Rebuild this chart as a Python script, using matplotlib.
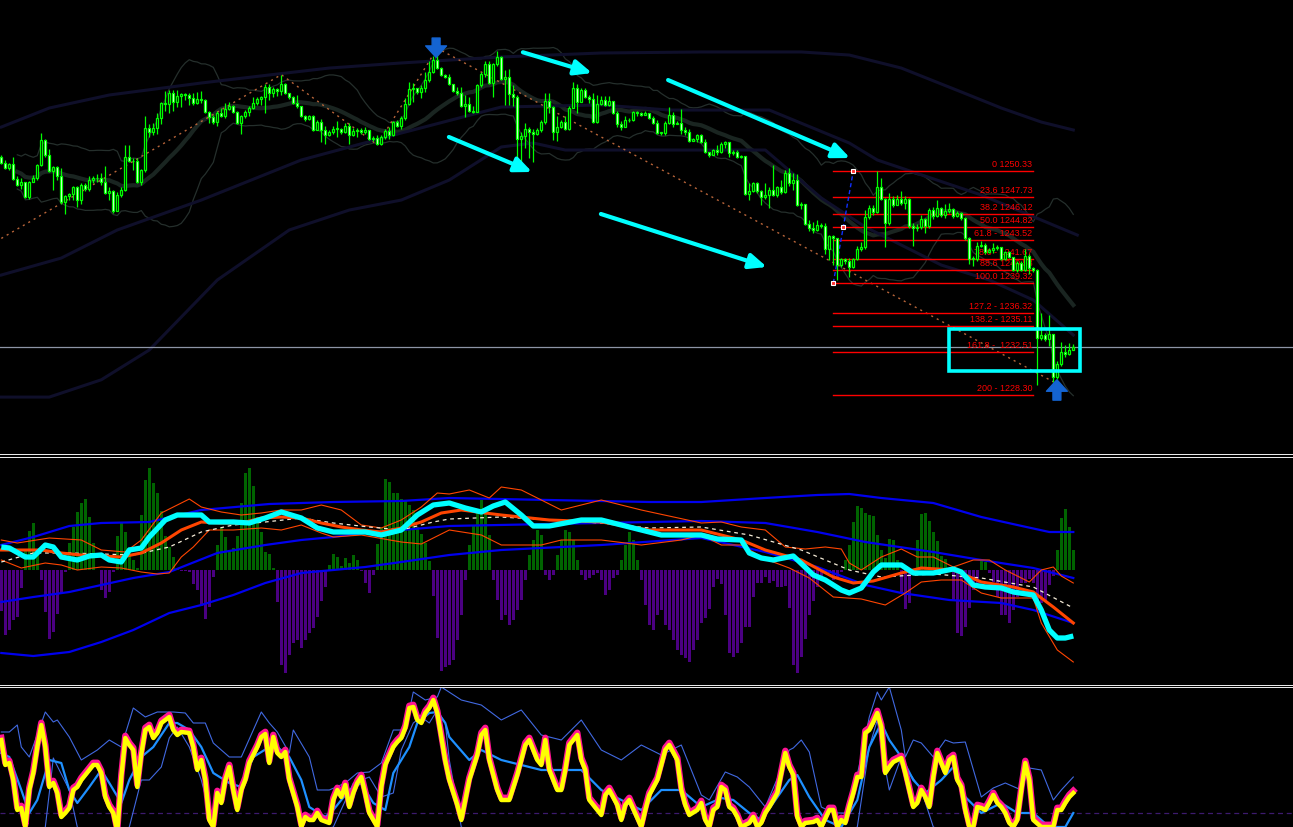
import matplotlib
matplotlib.use("Agg")
import matplotlib.pyplot as plt
import numpy as np
import pandas as pd
from matplotlib.lines import Line2D
from matplotlib.patches import Rectangle
import matplotlib.transforms as mtransforms

# ---------------- price data (one value per bar) ----------------
first_open = 1251.7
closes = [
    1251.1, 1250.6, 1251.0, 1249.5, 1249.0, 1249.2, 1247.8, 1249.2, 1249.6, 1250.9,
    1253.4, 1251.9, 1250.3, 1250.7, 1249.8, 1247.3, 1247.9, 1248.1, 1248.8, 1247.5,
    1249.0, 1248.6, 1249.4, 1249.6, 1249.6, 1249.2, 1248.2, 1248.4, 1246.4, 1248.0,
    1248.5, 1251.7, 1251.3, 1251.3, 1249.2, 1250.4, 1254.6, 1254.2, 1254.6, 1255.5,
    1257.0, 1256.9, 1258.0, 1257.1, 1257.7, 1257.9, 1257.8, 1257.5, 1257.0, 1257.4,
    1257.3, 1256.1, 1255.6, 1255.1, 1256.0, 1255.7, 1256.4, 1256.7, 1256.1, 1255.0,
    1255.7, 1256.1, 1256.5, 1257.0, 1257.4, 1257.6, 1258.6, 1258.0, 1258.4, 1258.2,
    1258.9, 1258.0, 1257.6, 1257.0, 1256.7, 1255.7, 1255.4, 1255.7, 1254.4, 1255.1,
    1254.4, 1253.9, 1254.2, 1254.5, 1254.5, 1254.2, 1254.8, 1253.9, 1254.3, 1254.4,
    1254.2, 1254.4, 1253.5, 1253.6, 1253.0, 1253.7, 1254.3, 1253.9, 1255.1, 1254.8,
    1255.5, 1256.9, 1258.4, 1258.5, 1258.1, 1258.5, 1259.3, 1260.1, 1261.2, 1260.5,
    1259.8, 1259.6, 1258.9, 1258.2, 1258.0, 1256.7, 1256.9, 1256.2, 1256.1, 1258.8,
    1259.9, 1260.8, 1259.0, 1260.8, 1261.5, 1259.4, 1259.6, 1257.9, 1257.6, 1253.5,
    1253.8, 1254.5, 1254.2, 1254.0, 1254.4, 1255.1, 1257.2, 1256.6, 1254.2, 1254.7,
    1255.1, 1254.5, 1256.5, 1258.5, 1257.1, 1258.3, 1257.6, 1257.4, 1255.1, 1256.9,
    1257.3, 1256.8, 1257.2, 1256.0, 1254.9, 1254.7, 1255.3, 1255.3, 1256.1, 1256.0,
    1255.8, 1256.0, 1255.5, 1255.0, 1254.1, 1254.1, 1255.0, 1255.8, 1254.9, 1255.0,
    1254.4, 1254.2, 1253.3, 1253.5, 1253.9, 1253.2, 1252.2, 1251.9, 1252.4, 1252.2,
    1253.0, 1253.2, 1252.1, 1252.2, 1251.7, 1251.8, 1248.1, 1248.4, 1249.1, 1248.4,
    1247.8, 1248.0, 1248.5, 1248.0, 1248.8, 1248.3, 1250.1, 1249.1, 1249.4, 1247.0,
    1247.1, 1245.1, 1244.7, 1244.5, 1245.0, 1244.9, 1242.7, 1243.9, 1243.7, 1241.1,
    1241.7, 1241.5, 1240.9, 1241.7, 1242.7, 1242.9, 1245.8, 1246.7, 1246.3, 1248.8,
    1247.6, 1245.2, 1247.6, 1247.0, 1247.6, 1247.2, 1247.6, 1244.9, 1244.7, 1244.8,
    1245.6, 1244.9, 1246.5, 1245.9, 1246.7, 1246.0, 1246.4, 1246.6, 1245.9, 1246.2,
    1245.7, 1243.7, 1241.7, 1241.7, 1243.0, 1243.1, 1242.4, 1242.6, 1242.8, 1242.9,
    1241.7, 1242.4, 1241.9, 1240.6, 1241.3, 1240.6, 1242.0, 1240.8, 1240.6, 1233.9,
    1234.2, 1233.8, 1234.3, 1230.1, 1231.4, 1232.5, 1232.3, 1232.7, 1233.0,
]
highs = [
    1251.9, 1251.4, 1251.1, 1251.7, 1249.8, 1249.6, 1249.2, 1249.3, 1249.9, 1251.0,
    1254.1, 1253.5, 1252.5, 1250.8, 1250.8, 1250.6, 1248.0, 1248.2, 1248.9, 1248.9,
    1249.1, 1249.1, 1249.8, 1249.8, 1250.0, 1250.1, 1250.8, 1248.8, 1248.5, 1248.3,
    1248.8, 1252.9, 1252.9, 1251.6, 1251.6, 1250.5, 1255.7, 1254.9, 1255.0, 1256.0,
    1257.1, 1258.2, 1258.3, 1258.3, 1258.3, 1258.0, 1258.0, 1258.0, 1258.0, 1258.1,
    1258.2, 1257.4, 1256.2, 1255.8, 1256.2, 1256.5, 1257.0, 1257.1, 1256.8, 1256.2,
    1255.8, 1256.3, 1256.7, 1257.6, 1257.6, 1257.7, 1258.9, 1258.9, 1258.6, 1258.5,
    1259.8, 1259.0, 1257.9, 1257.7, 1257.8, 1256.7, 1255.8, 1255.8, 1255.8, 1255.3,
    1255.4, 1254.8, 1254.4, 1254.8, 1255.2, 1254.6, 1255.0, 1255.0, 1254.6, 1254.6,
    1254.6, 1254.7, 1254.2, 1253.8, 1253.9, 1253.9, 1254.5, 1254.7, 1255.2, 1255.3,
    1255.7, 1257.5, 1259.1, 1259.0, 1258.3, 1258.8, 1260.1, 1261.1, 1261.6, 1262.4,
    1260.6, 1259.9, 1259.9, 1258.9, 1258.6, 1258.6, 1257.8, 1257.6, 1256.7, 1258.9,
    1260.1, 1261.1, 1261.1, 1260.9, 1262.1, 1261.6, 1260.3, 1260.4, 1258.8, 1257.8,
    1254.2, 1255.0, 1254.7, 1254.5, 1254.6, 1255.3, 1258.0, 1258.0, 1256.7, 1255.7,
    1255.3, 1255.7, 1256.7, 1259.1, 1258.9, 1258.5, 1258.5, 1257.8, 1258.0, 1257.8,
    1257.7, 1257.7, 1257.7, 1257.1, 1256.2, 1255.2, 1255.7, 1255.5, 1256.2, 1256.2,
    1256.1, 1256.2, 1255.9, 1255.7, 1255.3, 1254.2, 1255.2, 1256.6, 1256.1, 1255.2,
    1256.4, 1254.7, 1254.5, 1253.6, 1254.0, 1254.0, 1253.5, 1252.2, 1252.5, 1252.9,
    1253.2, 1253.3, 1253.0, 1252.4, 1252.4, 1251.9, 1251.8, 1249.1, 1249.2, 1249.2,
    1248.5, 1249.1, 1248.8, 1250.9, 1248.9, 1249.4, 1250.4, 1250.6, 1250.1, 1250.0,
    1247.3, 1246.9, 1245.5, 1245.3, 1245.5, 1245.2, 1245.2, 1244.0, 1244.0, 1243.7,
    1241.8, 1241.8, 1241.8, 1241.8, 1243.0, 1243.3, 1246.5, 1247.0, 1247.0, 1250.3,
    1249.6, 1247.7, 1248.2, 1247.9, 1248.0, 1248.4, 1247.9, 1247.7, 1245.2, 1245.1,
    1246.0, 1245.7, 1246.7, 1246.8, 1247.5, 1246.8, 1247.1, 1247.2, 1246.7, 1246.4,
    1246.3, 1245.8, 1243.8, 1242.0, 1243.3, 1243.4, 1243.2, 1242.8, 1243.2, 1243.1,
    1242.7, 1242.5, 1242.5, 1241.5, 1241.5, 1241.5, 1242.7, 1242.2, 1240.9, 1240.7,
    1236.4, 1234.4, 1236.2, 1233.9, 1231.6, 1233.5, 1233.2, 1233.4, 1233.3,
]
lows = [
    1251.0, 1250.5, 1250.4, 1249.4, 1248.9, 1248.6, 1247.7, 1247.6, 1249.2, 1249.4,
    1250.8, 1251.7, 1250.2, 1248.5, 1249.4, 1247.1, 1246.1, 1247.5, 1247.5, 1246.8,
    1247.1, 1248.4, 1248.4, 1249.1, 1249.2, 1249.0, 1248.1, 1247.5, 1246.2, 1246.4,
    1247.8, 1248.4, 1251.2, 1250.4, 1249.1, 1249.0, 1250.2, 1253.7, 1253.9, 1254.0,
    1254.9, 1256.2, 1256.0, 1256.2, 1256.6, 1256.6, 1257.3, 1256.8, 1256.8, 1256.9,
    1257.0, 1256.0, 1255.0, 1254.9, 1254.8, 1255.6, 1255.5, 1256.3, 1256.0, 1254.9,
    1254.0, 1255.5, 1255.7, 1256.4, 1256.8, 1256.8, 1256.0, 1257.3, 1257.6, 1257.7,
    1257.8, 1257.9, 1257.4, 1256.9, 1256.5, 1255.6, 1255.2, 1255.3, 1254.3, 1254.4,
    1253.2, 1253.0, 1253.8, 1254.0, 1253.7, 1254.0, 1254.1, 1253.0, 1253.8, 1253.7,
    1254.0, 1254.0, 1253.4, 1253.3, 1252.9, 1252.9, 1253.5, 1253.5, 1253.8, 1254.7,
    1254.5, 1255.3, 1256.8, 1257.1, 1257.9, 1257.5, 1258.1, 1259.1, 1260.0, 1260.4,
    1259.7, 1259.5, 1258.8, 1258.1, 1257.8, 1256.6, 1255.6, 1256.1, 1256.0, 1256.5,
    1258.6, 1259.6, 1258.9, 1257.6, 1260.7, 1259.3, 1256.8, 1256.8, 1256.7, 1251.2,
    1251.2, 1252.6, 1251.6, 1251.2, 1253.9, 1254.2, 1254.9, 1256.0, 1253.4, 1253.3,
    1254.6, 1254.4, 1254.4, 1256.5, 1256.0, 1257.1, 1257.5, 1257.0, 1255.0, 1255.0,
    1256.8, 1256.7, 1256.7, 1255.9, 1254.7, 1254.4, 1254.7, 1255.1, 1255.2, 1255.7,
    1255.7, 1255.8, 1255.4, 1254.9, 1254.0, 1253.9, 1253.9, 1254.9, 1254.7, 1254.9,
    1254.0, 1253.9, 1253.2, 1253.3, 1253.2, 1253.1, 1252.1, 1251.7, 1251.9, 1251.9,
    1252.1, 1252.6, 1251.7, 1251.9, 1251.6, 1251.6, 1248.0, 1247.5, 1248.3, 1248.2,
    1247.0, 1247.6, 1246.7, 1247.9, 1247.8, 1248.1, 1248.2, 1248.9, 1248.5, 1246.9,
    1246.6, 1245.0, 1244.4, 1244.2, 1244.4, 1244.7, 1242.2, 1241.6, 1241.1, 1239.6,
    1240.9, 1241.2, 1239.9, 1240.8, 1241.6, 1242.5, 1242.7, 1245.6, 1246.0, 1246.2,
    1247.5, 1242.9, 1245.0, 1246.8, 1247.3, 1247.0, 1246.6, 1244.7, 1243.0, 1244.4,
    1244.6, 1244.2, 1244.7, 1245.6, 1245.8, 1245.8, 1245.7, 1246.2, 1245.7, 1245.8,
    1245.5, 1243.5, 1241.2, 1241.0, 1241.5, 1242.9, 1242.2, 1242.3, 1242.3, 1242.6,
    1241.6, 1241.6, 1241.8, 1240.5, 1240.4, 1240.5, 1240.5, 1240.2, 1240.4, 1229.3,
    1233.7, 1233.6, 1233.1, 1229.6, 1229.9, 1231.2, 1232.0, 1232.2, 1232.7,
]

# long-period band (navy) read at selected bars
nav_up_i = [0, 12, 27, 50, 67, 82, 100, 125, 150, 175, 200, 212, 225, 240, 250, 260, 268]
nav_up_p = [1254.65, 1256.52, 1257.8, 1258.98, 1259.77, 1260.45, 1260.95, 1261.54, 1261.93,
            1262.03, 1262.03, 1261.73, 1260.45, 1258.1, 1256.52, 1255.14, 1254.36]
nav_mid_i = [0, 15, 29, 50, 75, 100, 125, 150, 167, 192, 212, 219, 245, 269]
nav_mid_p = [1240.1, 1241.77, 1244.53, 1247.47, 1251.41, 1254.06, 1256.62, 1256.82, 1256.32,
             1256.32, 1253.08, 1251.41, 1247.97, 1244.03]
nav_lo_i = [0, 12, 25, 37, 54, 72, 87, 100, 112, 125, 133, 141, 191, 205, 216, 235, 247, 258, 268]
nav_lo_p = [1228.1, 1228.1, 1229.8, 1232.73, 1239.61, 1244.53, 1246.49, 1247.47, 1249.44, 1252.69,
            1253.08, 1252.39, 1252.39, 1247.67, 1244.82, 1241.08, 1239.61, 1237.64, 1234.2]

# zigzag pivots
zz_i = [0, 70, 94, 109, 263]
zz_p = [1243.7, 1259.8, 1252.9, 1262.4, 1229.6]

# fibonacci
fib_labels = ["0 1250.33", "23.6 1247.73", "38.2 1246.12", "50.0 1244.82", "61.8 - 1243.52",
              "78.6 - 1241.67", "88.6 1240.58", "100.0 1239.32", "127.2 - 1236.32",
              "138.2 - 1235.11", "161.8 -  1232.51", "200 - 1228.30"]
fib_prices = [1250.33, 1247.73, 1246.12, 1244.82, 1243.52, 1241.67, 1240.58, 1239.32,
              1236.32, 1235.11, 1232.51, 1228.30]
fib_start, fib_end = 208, 258
fib_anchor_i = [208, 210.5, 213]
fib_anchor_p = [1239.32, 1244.82, 1250.33]
bid_price = 1233.02

# cyan trend arrows (start bar, start price, end bar, end price)
trend_arrows = [(130.4, 1262.0, 147.7, 1259.96),
                (111.9, 1253.67, 132.7, 1250.23),
                (166.7, 1259.27, 212.2, 1251.6),
                (149.9, 1246.10, 191.4, 1240.89)]
box_i = (236.9, 269.7)
box_p = (1230.66, 1234.79)
down_arrow = (108.7, 1263.4, 1261.5)
up_arrow = (263.9, 1227.8, 1229.8)

# ---------------- middle panel ----------------
hist = [
    -41, -65, -60, -50, -47, -18, 20, 39, 47, 20, -10, -42, -69, -62, -44, -24, -2, 27, 43, 58,
    67, 71, 53, 27, 0.5, -20, -28, -22, -2, 34, 48, 38, 23, 10, 2, 55, 90, 102, 87, 77,
    59, 34, 23, 13, 1, -1, -1, -2, -14, -20, -36, -49, -37, -7, 25, 42, 33, 20, 22, 34,
    67, 97, 102, 84, 53, 38, 18, 16, 2, -32, -95, -103, -85, -73, -70, -78, -70, -63, -58, -47,
    -31, -17, 5, 16, 13, 4, 12, 7, 15, 10, -1, -13, -23, -5, 26, 43, 91, 88, 77, 77,
    71, 70, 65, 60, 43, 36, 27, 9, -26, -68, -101, -97, -95, -90, -70, -45, -10, 25, 45, 60,
    70, 60, 35, -10, -30, -50, -45, -55, -50, -40, -30, -10, 15, 30, 40, 35, -5, -10, -5, 15,
    30, 40, 38, 30, 10, -5, -10, -8, -5, -3, -10, -25, -20, -8, -5, 10, 25, 38, 30, 10,
    -10, -35, -55, -60, -45, -40, -55, -60, -70, -80, -85, -88, -92, -80, -70, -53, -48, -39, -17, -9,
    -14, -45, -83, -87, -83, -73, -57, -57, -27, -13, -13, -7, -13, -11, -17, -17, -16, -38, -95, -103,
    -87, -69, -45, -31, -17, -7, -2, -3, -10, -7, -2, 10, 25, 48, 64, 62, 57, 55, 54, 35,
    20, 12, 31, 30, 10, -22, -39, -33, -1, 30, 56, 57, 49, 38, 29, 14, 11, -2, -30, -63,
    -66, -57, -38, -20, -13, 9, 8, -3, -12, -27, -45, -45, -53, -40, -27, -13, -13, -9, -13, -40,
    -33, -32, -15, -6, 20, 52, 61, 43, 20,
]
cyan_i = [0, 2, 6, 8, 11, 13, 15, 19, 22, 25, 27, 30, 32, 35, 37, 41, 44, 50, 52, 58,
          62, 66, 70, 75, 79, 83, 91, 95, 100, 104, 108, 112, 116, 120, 123, 126, 130, 133, 137,
          145, 150, 155, 160, 165, 175, 179, 185, 187, 190, 193, 198, 203, 206, 210, 212, 215, 218, 220, 225,
          228, 233, 238, 240, 243, 246, 250, 253, 258, 260, 262, 264, 266, 268]
cyan_v = [23, 22, 13, 13, 25, 23, 13, 10, 14, 15, 10, 8, 20, 22, 33, 50, 55, 55, 48, 48,
          47, 52, 58, 52, 42, 38, 38, 35, 40, 55, 65, 67, 62, 58, 64, 68, 55, 44, 44,
          50, 50, 45, 40, 35, 35, 31, 30, 17, 12, 10, 14, -5, -10, -20, -23, -18, -2, 5, 5,
          -3, -3, 1, -2, -15, -17, -18, -22, -25, -40, -60, -68, -68, -66]
ma_i = [0, 5, 10, 15, 20, 25, 30, 35, 40, 45, 50, 55, 60, 65, 70, 75, 80, 85, 90, 95,
        100, 105, 110, 115, 125, 137, 150, 162, 175, 185, 191, 200, 208, 213, 218, 225, 230, 238, 245, 253,
        258, 263, 268]
ma_v = [20, 20, 20, 17, 15, 14, 13, 17, 27, 40, 48, 47, 47, 52, 53, 52, 47, 43, 40, 38,
        42, 48, 57, 60, 55, 50, 48, 40, 40, 30, 20, 10, -7, -13, -11, -3, 2, 0, -12, -17,
        -22, -37, -53]
sig_i = [0, 8, 17, 25, 33, 42, 50, 58, 66, 75, 83, 92, 100, 108, 112, 125, 137, 150, 162, 175,
         187, 200, 212, 220, 233, 245, 258, 268]
sig_v = [8, 17, 17, 16, 15, 23, 38, 45, 48, 52, 47, 43, 40, 48, 51, 53, 50, 47, 42, 43,
         35, 20, 0, -7, -4, -8, -17, -38]
env_up_i = [0, 4, 12, 20, 25, 31, 35, 40, 44, 47, 50, 55, 60, 65, 70, 75, 80, 85, 90, 95,
            100, 105, 109, 112, 117, 122, 125, 130, 140, 150, 160, 175, 180, 185, 191, 196, 201, 206, 210, 212,
            215, 220, 225, 229, 233, 238, 243, 247, 251, 257, 260, 263, 265, 268]
env_up_v = [30, 27, 32, 30, 20, 18, 30, 57, 65, 71, 63, 58, 55, 57, 60, 60, 65, 60, 45, 42,
            50, 63, 77, 76, 80, 72, 83, 80, 60, 70, 60, 47, 48, 43, 40, 23, 21, 23, 21, 7,
            0, 13, 21, 13, 13, 3, 10, 10, 0, -12, 0, 3, -6, -13]
env_lo_i = [0, 5, 11, 15, 19, 25, 30, 35, 39, 42, 45, 48, 52, 58, 65, 70, 75, 80, 83, 90,
            100, 105, 108, 112, 120, 125, 135, 140, 150, 160, 170, 175, 180, 185, 191, 197, 202, 208, 215, 221,
            226, 230, 235, 240, 245, 250, 258, 260, 264, 268]
env_lo_v = [10, 2, 7, 5, 0, 3, 2, -2, -4, -3, 13, 23, 40, 40, 42, 40, 45, 37, 33, 35,
            28, 26, 32, 40, 35, 25, 25, 30, 30, 25, 30, 35, 25, 25, 11, 2, -8, -27, -29, -35,
            -23, -12, -10, -10, -23, -28, -28, -53, -80, -92]
blue_up_i = [0, 8, 17, 25, 37, 50, 67, 83, 100, 112, 137, 162, 175, 191, 204, 212, 220, 233, 245, 254, 262, 268]
blue_up_v = [25, 33, 44, 47, 48, 60, 66, 68, 69, 72, 70, 68, 68, 72, 75, 76, 72, 67, 53, 45, 38, 38]
blue_mid_i = [0, 8, 17, 25, 33, 42, 54, 66, 75, 83, 91, 100, 112, 137, 162, 175, 191, 204, 216, 233, 245, 258, 268]
blue_mid_v = [-32, -27, -22, -15, -8, -2, 17, 25, 30, 33, 37, 40, 44, 46, 48, 49, 47, 38, 28, 18, 10, 2, -8]
blue_lo_i = [0, 8, 17, 25, 33, 42, 50, 58, 66, 75, 83, 91, 100, 112, 125, 150, 175, 191, 204, 216, 225, 237, 250, 258, 268]
blue_lo_v = [-83, -86, -82, -72, -60, -43, -35, -25, -13, -3, 0, 3, 8, 15, 20, 25, 32, 18, 3, -15, -23, -30, -33, -40, -53]

# ---------------- bottom panel ----------------
osc_i = [0, 1, 2, 3, 4, 5, 6, 7, 8, 9, 10, 11, 12, 13, 14, 15, 16, 17, 18, 19,
         20, 21, 22, 23, 24, 25, 26, 27, 28, 29, 30, 31, 32, 33, 34, 35, 36, 37, 38, 39,
         40, 41, 42, 43, 44, 45, 47, 48, 49, 50, 51, 52, 53, 54, 55, 56, 57, 58, 59, 60,
         61, 62, 64, 65, 66, 67, 68, 69, 70, 71, 72, 74, 75, 76, 77, 78, 79, 80, 82, 83,
         84, 85, 86, 87, 88, 89, 90, 91, 92, 93, 94, 95, 96, 98, 99, 100, 101, 102, 103, 104,
         105, 106, 107, 108, 109, 110, 111, 112, 114, 115, 116, 117, 119, 120, 121, 122, 124, 125, 127, 129,
         130, 131, 132, 134, 135, 136, 137, 139, 140, 141, 142, 144, 145, 146, 147, 149, 150, 151, 152, 154,
         155, 156, 157, 160, 161, 162, 164, 165, 166, 167, 169, 170, 171, 172, 174, 175, 176, 177, 178, 179,
         180, 181, 182, 183, 184, 185, 187, 188, 189, 190, 191, 192, 193, 194, 195, 196, 197, 198, 199, 200,
         201, 203, 204, 205, 207, 208, 209, 210, 211, 212, 213, 214, 215, 216, 217, 218, 219, 220, 221, 222,
         223, 224, 225, 226, 227, 228, 229, 230, 231, 232, 233, 234, 235, 236, 237, 238, 239, 240, 241, 242,
         243, 244, 245, 246, 247, 248, 249, 250, 251, 252, 253, 254, 255, 256, 257, 258, 260, 262, 263, 264,
         265, 266, 267, 268]
osc_v = [87, 62, 64, 47, 17, 19, 0, 37, 54, 80, 102, 80, 40, 44, 34, 10, 14, 19, 37, 40,
         47, 52, 57, 62, 62, 54, 30, 20, 14, -5, 50, 89, 82, 77, 40, 73, 97, 100, 89, 94,
         104, 107, 110, 97, 92, 95, 94, 80, 57, 67, 47, 7, 0, 34, 24, 47, 60, 37, 17, 37,
         47, 64, 80, 90, 93, 64, 90, 74, 70, 75, 47, 20, 0, 10, 7, 7, 14, 7, 4, 27,
         37, 30, 42, 20, 34, 44, 50, 33, 14, 7, 0, 40, 62, 80, 85, 89, 99, 119, 120, 107,
         104, 114, 119, 127, 114, 90, 66, 47, 22, 7, 27, 47, 72, 92, 97, 67, 37, 27, 27, 52,
         67, 82, 87, 67, 62, 87, 57, 37, 37, 57, 82, 92, 67, 57, 27, 17, 12, 32, 37, 22,
         7, 22, 27, 0, 17, 32, 47, 62, 77, 82, 67, 37, 22, 12, 17, 24, 7, 0, 17, 20,
         40, 37, 20, 17, 10, 0, 4, 10, 0, 4, 14, 20, 27, 34, 54, 74, 60, 52, 10, 0,
         4, 5, 7, 0, 17, 17, 0, 7, 4, 20, 34, 50, 50, 94, 97, 105, 114, 100, 54, 60,
         65, 67, 69, 54, 37, 20, 24, 37, 30, 20, 50, 74, 64, 54, 67, 70, 47, 40, 17, 0,
         0, 20, 19, 17, 24, 32, 24, 20, 14, 4, 0, 7, 37, 64, 47, 7, 0, 0, 0, 17,
         17, 24, 30, 34]
slow_i = [0, 2, 5, 7, 9, 12, 15, 17, 19, 22, 25, 27, 30, 32, 35, 38, 42, 44, 47, 50,
          53, 57, 60, 63, 67, 69, 72, 75, 77, 81, 83, 87, 90, 93, 96, 98, 102, 104, 107, 109,
          111, 112, 117, 120, 125, 130, 135, 140, 145, 150, 155, 160, 165, 170, 175, 180, 183, 187, 190, 193,
          197, 199, 202, 206, 210, 214, 217, 220, 222, 225, 228, 231, 235, 238, 241, 245, 250, 254, 258, 262,
          266, 268]
slow_v = [74, 70, 37, 14, 27, 67, 64, 37, 24, 40, 57, 44, 24, 47, 70, 80, 104, 104, 97, 80,
          54, 44, 40, 70, 80, 80, 70, 47, 20, 10, 17, 37, 44, 24, 17, 54, 80, 104, 114, 115,
          104, 90, 67, 77, 67, 62, 57, 57, 57, 37, 27, 17, 37, 37, 20, 29, 27, 14, 7, 24,
          47, 52, 30, 7, 0, 27, 80, 104, 87, 70, 47, 34, 47, 60, 30, 14, 24, 14, 14, 0,
          0, 14]
band_hi_i = [0, 2, 4, 5, 7, 11, 13, 14, 17, 20, 24, 27, 30, 33, 36, 39, 43, 46, 48, 51,
             53, 57, 60, 65, 67, 69, 72, 73, 77, 79, 82, 86, 89, 92, 95, 98, 101, 103, 106, 109,
             110, 115, 120, 125, 130, 135, 140, 145, 150, 155, 160, 165, 170, 175, 177, 181, 184, 187, 191, 197,
             198, 200, 202, 205, 208, 212, 217, 219, 220, 222, 225, 226, 228, 230, 233, 236, 238, 241, 245, 248,
             251, 255, 257, 260, 263, 265, 268]
band_hi_v = [95, 95, 102, 80, 70, 115, 105, 107, 90, 67, 77, 87, 80, 119, 110, 115, 115, 114, 104, 104,
             84, 70, 70, 115, 104, 95, 74, 97, 70, 37, 37, 44, 54, 55, 64, 97, 97, 135, 127, 130,
             140, 127, 122, 107, 117, 92, 87, 107, 77, 67, 82, 72, 82, 32, 27, 55, 50, 40, 20, 77,
             79, 87, 75, 20, 14, 14, 110, 135, 127, 140, 97, 70, 87, 84, 70, 87, 84, 85, 30, 39,
             44, 37, 59, 57, 27, 37, 50]
band_lo_i = [0, 8, 11, 12, 13, 17, 19, 25, 32, 35, 37, 40, 42, 44, 47, 50, 53, 65, 83, 88,
             92, 95, 98, 100, 103, 105, 107, 109, 111, 112, 115, 125, 140, 150, 170, 205, 214, 217, 219, 220,
             222, 225, 226, 230, 233, 245, 268]
band_lo_v = [-20, -20, 0, 34, 69, 37, 0, -20, 0, 47, 47, 60, 89, 100, 80, 47, 0, -20, 0, 44,
             50, 30, 34, 77, 104, 110, 104, 117, 104, 67, 0, -20, -10, -20, -20, -20, 0, 80, 107, 80,
             37, 70, 60, 37, 0, -20, -10]
osc_level = 14

# ---------------- figure ----------------
W, H = 1293, 827
fig = plt.figure(figsize=(W / 100, H / 100), dpi=100, facecolor="black")
px = 0.72  # one pixel in points

def panel(top, bottom):
    return fig.add_axes([0, 1 - bottom / H, 1, (bottom - top) / H])

ax1 = panel(0, 452)
ax2 = panel(457, 683)
ax3 = panel(688, 827)
xlim = (-1.3 / 4, (W - 1.3) / 4)
for ax in (ax1, ax2, ax3):
    ax.set_facecolor("black")
    ax.set_xlim(*xlim)
    ax.set_xticks([])
    ax.set_yticks([])
    for s in ax.spines.values():
        s.set_visible(False)
ax1.set_ylim(1222.70, 1267.14)
ax2.set_ylim(-113, 113)
ax3.set_ylim(0, 139)

for yy in (454, 456.5, 684.5, 687):
    fig.add_artist(Line2D([0, 1], [1 - yy / H] * 2, transform=fig.transFigure,
                          color="#e8e8e8", lw=px))

# ---- top panel ----
c = np.array(closes)
o = np.array([first_open] + closes[:-1])
h = np.maximum(np.array(highs), np.maximum(o, c))
l = np.minimum(np.array(lows), np.minimum(o, c))
idx = np.arange(len(c))

s = pd.Series(c)
mid = s.rolling(20, min_periods=5).mean()
sd = s.rolling(20, min_periods=5).std(ddof=0)
ax1.plot(idx, mid, color="#1a2521", lw=3.0, zorder=1)
ax1.plot(idx, mid + 2 * sd, color="#252f2c", lw=0.9, zorder=1)
ax1.plot(idx, mid - 2 * sd, color="#252f2c", lw=0.9, zorder=1)

for xi, yp in ((nav_up_i, nav_up_p), (nav_mid_i, nav_mid_p), (nav_lo_i, nav_lo_p)):
    ax1.plot(xi, yp, color="#0f0f2a", lw=2.2, zorder=1)

ax1.plot(zz_i, zz_p, color="#b8653a", lw=1.0, ls=(0, (1.5, 3)), zorder=2)
ax1.axhline(bid_price, color="#8d95a6", lw=0.9, zorder=2)

for fp, lab in zip(fib_prices, fib_labels):
    ax1.plot([fib_start, fib_end], [fp, fp], color="#ff0000", lw=1.0, zorder=2)
    ax1.annotate(lab, (fib_end - 0.2, fp), xytext=(0, 1.5), textcoords="offset points",
                 ha="right", va="bottom", color="#ff0000", fontsize=6.5,
                 family="Liberation Sans", zorder=2)
ax1.plot(fib_anchor_i, fib_anchor_p, color="#1030ff", lw=1.0, ls=(0, (3, 2)), zorder=3)
ax1.plot(fib_anchor_i, fib_anchor_p, ls="none", marker="s", ms=3.2, mfc="#ff3030",
         mec="white", mew=0.8, zorder=6)

# candles
ax1.vlines(idx, l, h, color="#00ff00", lw=0.9, zorder=4)
bull = c >= o
body = np.where(np.abs(c - o) < 0.05, 0.05, c - o)
ax1.bar(idx[bull], body[bull], bottom=o[bull], width=0.5, color="black",
        edgecolor="#00ff00", lw=0.9, zorder=5)
ax1.bar(idx[~bull], body[~bull], bottom=o[~bull], width=0.5, color="white",
        edgecolor="#00ff00", lw=0.9, zorder=5)

for x0, y0, x1, y1 in trend_arrows:
    ax1.annotate("", xy=(x1, y1), xytext=(x0, y0),
                 arrowprops=dict(arrowstyle="-|>,head_length=0.8,head_width=0.35",
                                 color="#00ffff", lw=3.0, shrinkA=0, shrinkB=0,
                                 mutation_scale=13), zorder=7)
ax1.add_patch(Rectangle((box_i[0], box_p[0]), box_i[1] - box_i[0], box_p[1] - box_p[0],
                        fill=False, edgecolor="#00ffff", lw=2.6, zorder=7))
for xa, ya0, ya1 in (down_arrow, up_arrow):
    ax1.annotate("", xy=(xa, ya1), xytext=(xa, ya0),
                 arrowprops=dict(arrowstyle="simple,head_length=0.55,head_width=1.0,tail_width=0.38",
                                 color="#1464d2", shrinkA=0, shrinkB=0, mutation_scale=15),
                 zorder=8)

# ---- middle panel ----
hv = np.array(hist, dtype=float)
hx = np.arange(len(hv))
ax2.bar(hx[hv >= 0], hv[hv >= 0], width=0.75, color="#006400", lw=0, zorder=1)
ax2.bar(hx[hv < 0], hv[hv < 0], width=0.75, color="#4b0082", lw=0, zorder=1)
for xi, yv in ((blue_up_i, blue_up_v), (blue_mid_i, blue_mid_v), (blue_lo_i, blue_lo_v)):
    ax2.plot(xi, yv, color="#0000ee", lw=1.6, zorder=2)
ax2.plot(env_up_i, env_up_v, color="#ff4500", lw=0.8, zorder=3)
ax2.plot(env_lo_i, env_lo_v, color="#ff4500", lw=0.8, zorder=3)
ax2.plot(sig_i, sig_v, color="#f5ecd8", lw=0.9, ls=(0, (3, 3)), zorder=3)
ax2.plot(ma_i, ma_v, color="#ff4500", lw=2.2, zorder=4)
ax2.plot(cyan_i, cyan_v, color="#00ffff", lw=3.8, zorder=5, solid_capstyle="butt")

# ---- bottom panel ----
ax3.axhline(osc_level, color="#3c1a6e", lw=0.9, ls=(0, (4, 3)), zorder=1)
ax3.plot(band_hi_i, band_hi_v, color="#4169e1", lw=0.8, zorder=2)
ax3.plot(band_lo_i, band_lo_v, color="#4169e1", lw=0.8, zorder=2)
ax3.plot(slow_i, slow_v, color="#1e90ff", lw=1.6, zorder=3)
shift = mtransforms.offset_copy(ax3.transData, fig=fig, x=0, y=1.6, units="points")
ax3.plot(osc_i, osc_v, color="#ff1493", lw=4.6, zorder=4, transform=shift)
ax3.plot(osc_i, osc_v, color="#ffff00", lw=3.2, zorder=5)

fig.savefig("out.png", dpi=100, facecolor="black")
